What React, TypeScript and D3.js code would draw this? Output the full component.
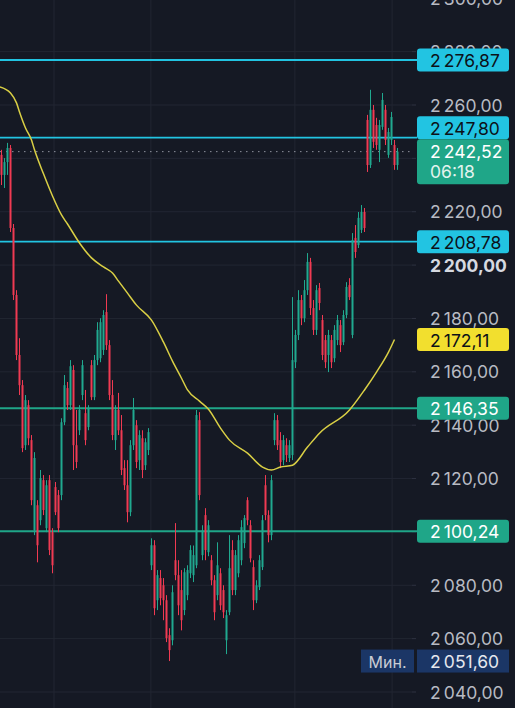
import React from 'react';
import * as d3 from 'd3';

const W = 515;
const H = 708;

// Candles (price units), one per bar
const openP = [
  2241.3, 2233.8, 2238.6, 2243.9, 2213.9, 2188.8, 2166.3, 2155.0, 2132.5, 2147.5,
  2134.4, 2100.6, 2110.0, 2104.4, 2119.4, 2101.4, 2119.4, 2099.9, 2116.8, 2113.8,
  2113.8, 2141.1, 2153.9, 2147.5, 2160.7, 2132.5, 2138.1, 2151.3, 2144.5, 2139.3,
  2162.5, 2150.5, 2164.4, 2165.1, 2168.2, 2182.4, 2170.0, 2151.3, 2134.4, 2145.7,
  2138.1, 2123.9, 2117.5, 2107.4, 2132.5, 2140.0, 2126.9, 2135.1, 2125.0, 2130.7,
  2087.5, 2095.0, 2074.4, 2082.7, 2080.0, 2074.4, 2061.3, 2059.4, 2089.4, 2083.8,
  2078.2, 2070.7, 2076.3, 2084.5, 2083.8, 2087.5, 2141.9, 2091.3, 2106.3, 2092.4,
  2089.4, 2081.9, 2076.3, 2084.5, 2078.2, 2059.4, 2069.9, 2093.2, 2078.2, 2084.5,
  2089.4, 2095.8, 2111.9, 2102.5, 2086.8, 2074.4, 2079.3, 2086.8, 2117.5, 2106.3,
  2098.8, 2134.4, 2141.9, 2134.4, 2126.9, 2132.5, 2127.7, 2128.8, 2163.6, 2173.8,
  2186.9, 2180.1, 2190.6, 2201.2, 2183.9, 2175.7, 2191.4, 2179.4, 2171.9, 2166.3,
  2171.9, 2165.1, 2171.9, 2177.5, 2171.1, 2181.3, 2192.5, 2173.8, 2210.2, 2207.5,
  2213.2, 2219.9, 2254.4, 2237.5, 2258.2, 2252.5, 2243.2, 2251.8, 2258.2, 2241.3,
  2246.9, 2245.0, 2237.5,
];
const highP = [
  2243.2, 2240.1, 2245.8, 2245.0, 2215.4, 2190.6, 2172.6, 2156.9, 2151.3, 2149.4,
  2136.3, 2129.9, 2111.9, 2123.2, 2121.3, 2119.4, 2121.3, 2101.4, 2118.7, 2115.7,
  2142.6, 2158.8, 2156.2, 2164.4, 2162.5, 2145.7, 2147.5, 2164.4, 2153.2, 2147.5,
  2164.4, 2166.3, 2178.6, 2180.1, 2183.1, 2189.1, 2171.9, 2156.9, 2147.5, 2152.1,
  2143.8, 2126.9, 2126.9, 2134.4, 2150.2, 2141.9, 2138.1, 2138.1, 2135.1, 2138.9,
  2097.6, 2096.9, 2085.7, 2085.7, 2082.7, 2076.3, 2063.9, 2080.0, 2103.3, 2089.4,
  2085.7, 2086.4, 2087.5, 2095.0, 2094.9, 2145.7, 2144.9, 2102.5, 2108.9, 2104.4,
  2091.3, 2083.8, 2096.1, 2086.4, 2080.0, 2070.7, 2098.8, 2096.9, 2093.2, 2098.8,
  2104.4, 2106.3, 2113.0, 2104.4, 2089.4, 2081.9, 2091.3, 2106.3, 2121.3, 2108.1,
  2121.3, 2144.5, 2143.8, 2137.4, 2136.3, 2135.1, 2134.4, 2188.0, 2175.7, 2190.6,
  2188.8, 2194.4, 2204.5, 2202.7, 2186.9, 2192.5, 2193.3, 2181.3, 2173.8, 2175.7,
  2173.8, 2177.5, 2181.3, 2179.4, 2183.1, 2193.6, 2195.1, 2212.0, 2215.0, 2219.9,
  2222.5, 2221.4, 2256.3, 2265.7, 2260.0, 2255.2, 2254.4, 2264.5, 2260.0, 2251.4,
  2257.4, 2246.9, 2243.9,
];
const lowP = [
  2230.0, 2228.9, 2233.8, 2212.4, 2186.9, 2164.4, 2151.3, 2129.9, 2130.7, 2132.5,
  2110.0, 2098.8, 2088.6, 2102.5, 2106.3, 2099.9, 2091.3, 2084.5, 2106.3, 2099.9,
  2111.9, 2140.0, 2145.7, 2145.7, 2123.2, 2123.9, 2136.3, 2149.4, 2132.5, 2138.1,
  2149.4, 2149.4, 2162.5, 2163.6, 2166.3, 2168.2, 2149.4, 2134.4, 2130.7, 2136.3,
  2121.3, 2115.7, 2103.6, 2105.9, 2130.7, 2123.9, 2123.2, 2120.2, 2123.2, 2128.8,
  2085.7, 2068.8, 2070.7, 2072.5, 2066.9, 2058.7, 2051.6, 2057.5, 2081.9, 2068.8,
  2063.1, 2068.8, 2074.4, 2082.7, 2081.2, 2086.4, 2111.9, 2089.4, 2089.4, 2090.9,
  2080.0, 2066.9, 2074.4, 2070.7, 2067.7, 2054.2, 2068.8, 2076.3, 2076.3, 2083.0,
  2087.5, 2093.9, 2102.5, 2088.6, 2070.7, 2073.3, 2078.2, 2085.7, 2104.4, 2096.1,
  2096.9, 2132.5, 2130.7, 2123.9, 2125.0, 2126.2, 2126.2, 2126.9, 2161.4, 2171.9,
  2177.5, 2178.6, 2188.8, 2181.3, 2173.8, 2173.8, 2183.1, 2164.4, 2161.4, 2159.9,
  2161.4, 2163.6, 2170.0, 2167.4, 2170.0, 2180.1, 2186.9, 2172.6, 2202.7, 2206.4,
  2212.0, 2212.4, 2234.9, 2236.4, 2243.9, 2243.2, 2238.6, 2250.7, 2245.0, 2240.2,
  2245.0, 2235.7, 2235.7,
];
const closeP = [
  2233.8, 2238.6, 2243.9, 2213.9, 2188.8, 2166.3, 2155.0, 2131.4, 2149.4, 2135.1,
  2111.9, 2127.7, 2095.0, 2120.2, 2108.2, 2117.5, 2093.2, 2087.5, 2107.4, 2101.4,
  2141.1, 2155.0, 2147.5, 2162.1, 2132.5, 2126.2, 2145.7, 2162.5, 2134.4, 2146.4,
  2150.5, 2164.4, 2175.7, 2178.6, 2181.3, 2170.0, 2151.3, 2136.3, 2145.7, 2138.1,
  2123.2, 2117.5, 2107.4, 2132.5, 2145.7, 2126.2, 2136.3, 2123.2, 2133.6, 2137.4,
  2095.0, 2071.4, 2083.8, 2075.2, 2074.4, 2060.2, 2055.7, 2077.4, 2083.8, 2072.5,
  2066.9, 2084.9, 2085.7, 2093.2, 2091.3, 2143.8, 2113.8, 2100.6, 2093.2, 2102.5,
  2081.9, 2069.9, 2087.5, 2072.5, 2069.9, 2068.8, 2086.4, 2078.2, 2091.3, 2096.9,
  2101.8, 2105.2, 2104.4, 2090.1, 2074.4, 2080.0, 2089.4, 2104.4, 2106.3, 2098.8,
  2119.4, 2141.9, 2132.5, 2126.2, 2134.4, 2128.8, 2132.5, 2164.4, 2173.8, 2186.9,
  2180.1, 2190.6, 2201.2, 2183.9, 2175.7, 2190.6, 2185.8, 2166.3, 2163.6, 2173.8,
  2163.6, 2175.7, 2179.4, 2170.0, 2181.3, 2191.8, 2188.0, 2209.4, 2204.9, 2217.7,
  2219.9, 2213.9, 2237.5, 2258.2, 2246.2, 2245.0, 2252.5, 2261.9, 2246.9, 2249.9,
  2255.5, 2237.5, 2242.52,
];

// Moving average (bar index, value)
const maIndex = [-0.5, 3, 5, 6, 8, 10, 11, 14, 17, 20, 22, 26, 30, 34, 37, 39, 42, 45, 50, 54, 57, 60, 62, 66, 69, 73, 76, 82, 87, 90, 93, 97, 102, 106, 116, 121, 125, 129, 131];
const maValue = [2266.8, 2264.5, 2260.8, 2257.4, 2251.4, 2246.9, 2243.2, 2234.2, 2225.9, 2218.8, 2215.4, 2208.3, 2202.7, 2199.3, 2197.0, 2194.0, 2189.5, 2185.0, 2179.4, 2171.1, 2164.0, 2157.6, 2153.2, 2149.0, 2146.0, 2138.9, 2134.4, 2129.5, 2124.3, 2123.2, 2124.3, 2125.0, 2131.8, 2137.0, 2145.7, 2153.2, 2159.9, 2167.4, 2172.11];

const yTickValues = [2040, 2060, 2080, 2100, 2120, 2140, 2160, 2180, 2200, 2220, 2240, 2260, 2280, 2300];
// tick labels hidden under price labels in the reference
const hiddenTickLabels = [2240, 2100];
const boldTick = 2200;
const vGridIndex = [17.5, 49.8, 97.8, 130.2];

const levelPrices = [2276.87, 2247.80, 2208.78, 2146.35, 2100.24];
const levelKinds = ['cyan', 'cyan', 'cyan', 'green', 'green'];

const currentPrice = 2242.52;
const countdown = '06:18';
const maLastValue = 2172.11;
const minPrice = 2051.60;
const minLabel = 'Мин.';

const COLORS = {
  bg: '#151924',
  grid: '#222632',
  tick: '#b8bbc3',
  up: '#20a98f',
  down: '#f03a52',
  cyan: '#22c4e2',
  green: '#1fa688',
  yellow: '#f2df2e',
  blue: '#1b3666',
  ma: '#d9cf45',
};

const fmt = (v: number) => {
  const s = v.toFixed(2).replace('.', ',');
  const [ip, dp] = s.split(',');
  const withSep = ip.replace(/\B(?=(\d{3})+(?!\d))/g, '\u202F');
  return withSep + ',' + dp;
};

export default function App() {
  const plotRight = 412;
  const x = d3.scaleLinear().domain([0, 132]).range([1.5, 397.5]);
  const y = d3.scaleLinear().domain([2040, 2260]).range([692, 105]);

  const candles = openP.map((o, i) => ({ i, o, h: highP[i], l: lowP[i], c: closeP[i] }));

  const maLine = d3
    .line<number>()
    .x((_, k) => x(maIndex[k]))
    .y((v) => y(v))
    .curve(d3.curveMonotoneX)(maValue) as string;

  const font = 'Inter, "Noto Sans", sans-serif';
  const fs = 17.5;
  const boxX = 417;
  const boxW = 92;
  const boxH = 23;
  const textX = 430;

  const yCur = y(currentPrice);
  const curTop = yCur - 12.5;
  const curH = 45;

  const levelCenters = levelPrices.map((p) => {
    let c = y(p);
    if (c + boxH / 2 > curTop && c - boxH / 2 < curTop + curH && p > currentPrice) {
      c = curTop - boxH / 2;
    }
    return c;
  });

  return (
    <svg
      width={W}
      height={H}
      style={{ position: 'fixed', left: 0, top: 0, background: COLORS.bg }}
      fontFamily={font}
    >
      <rect x={0} y={0} width={W} height={H} fill={COLORS.bg} />
      {/* grid */}
      {yTickValues.map((t) => (
        <line key={'hg' + t} x1={0} x2={plotRight} y1={y(t)} y2={y(t)} stroke={COLORS.grid} strokeWidth={1} />
      ))}
      {vGridIndex.map((g) => (
        <line key={'vg' + g} x1={x(g)} x2={x(g)} y1={0} y2={H} stroke={COLORS.grid} strokeWidth={1} />
      ))}
      {/* axis tick marks */}
      {yTickValues.map((t) => (
        <line key={'tm' + t} x1={plotRight} x2={plotRight + 4} y1={y(t)} y2={y(t)} stroke="#2e3240" strokeWidth={1} />
      ))}
      {/* tick labels */}
      {yTickValues
        .filter((t) => !hiddenTickLabels.includes(t))
        .map((t) => (
          <text
            key={'tl' + t}
            x={textX}
            y={y(t)}
            dominantBaseline="central"
            fontSize={fs}
            fill={t === boldTick ? '#d6d9e0' : COLORS.tick}
            fontWeight={t === boldTick ? 700 : 400}
          >
            {fmt(t)}
          </text>
        ))}

      {/* level lines */}
      {levelPrices.map((p, k) => (
        <line
          key={'lv' + p}
          x1={0}
          x2={boxX}
          y1={y(p)}
          y2={y(p)}
          stroke={levelKinds[k] === 'cyan' ? COLORS.cyan : COLORS.green}
          strokeWidth={1.8}
        />
      ))}

      {/* current price dotted line */}
      <line x1={0} x2={plotRight} y1={yCur} y2={yCur} stroke="#8d919c" strokeWidth={1} strokeDasharray="1.5 4.5" />

      {/* candles */}
      {candles.map((d) => {
        const col = d.c >= d.o ? COLORS.up : COLORS.down;
        const cx = x(d.i);
        const top = y(Math.max(d.o, d.c));
        const bot = y(Math.min(d.o, d.c));
        return (
          <g key={'c' + d.i}>
            <line x1={cx} x2={cx} y1={y(d.h)} y2={y(d.l)} stroke={col} strokeWidth={1} />
            <rect x={cx - 1} y={top} width={2} height={Math.max(1, bot - top)} fill={col} />
          </g>
        );
      })}

      {/* moving average */}
      <path d={maLine} fill="none" stroke={COLORS.ma} strokeWidth={1.5} />

      {/* level labels */}
      {levelPrices.map((p, k) => {
        const c = levelCenters[k];
        const cyan = levelKinds[k] === 'cyan';
        return (
          <g key={'lb' + p}>
            <rect x={boxX} y={c - boxH / 2} width={boxW} height={boxH} rx={3} fill={cyan ? COLORS.cyan : COLORS.green} />
            <text x={textX} y={c + 0.5} dominantBaseline="central" fontSize={fs} fill={cyan ? '#0c1118' : '#ffffff'}>
              {fmt(p)}
            </text>
          </g>
        );
      })}

      {/* MA label */}
      <rect x={boxX} y={y(maLastValue) - boxH / 2} width={boxW} height={boxH} rx={3} fill={COLORS.yellow} />
      <text x={textX} y={y(maLastValue) + 0.5} dominantBaseline="central" fontSize={fs} fill="#0c1118">
        {fmt(maLastValue)}
      </text>

      {/* current price label */}
      <rect x={boxX} y={curTop} width={boxW} height={curH} rx={3} fill={COLORS.green} />
      <text x={textX} y={yCur} dominantBaseline="central" fontSize={fs} fill="#ffffff">
        {fmt(currentPrice)}
      </text>
      <text x={textX} y={yCur + 20} dominantBaseline="central" fontSize={fs} fill="#e2f3ee">
        {countdown}
      </text>

      {/* min label */}
      <rect x={361} y={y(minPrice) - boxH / 2} width={53} height={boxH} fill={COLORS.blue} />
      <text x={387.5} y={y(minPrice) + 0.5} dominantBaseline="central" textAnchor="middle" fontSize={16} fill="#c9ccd4">
        {minLabel}
      </text>
      <rect x={boxX} y={y(minPrice) - boxH / 2} width={boxW} height={boxH} fill={COLORS.blue} />
      <text x={textX} y={y(minPrice) + 0.5} dominantBaseline="central" fontSize={fs} fill="#e6e8ee">
        {fmt(minPrice)}
      </text>
    </svg>
  );
}
